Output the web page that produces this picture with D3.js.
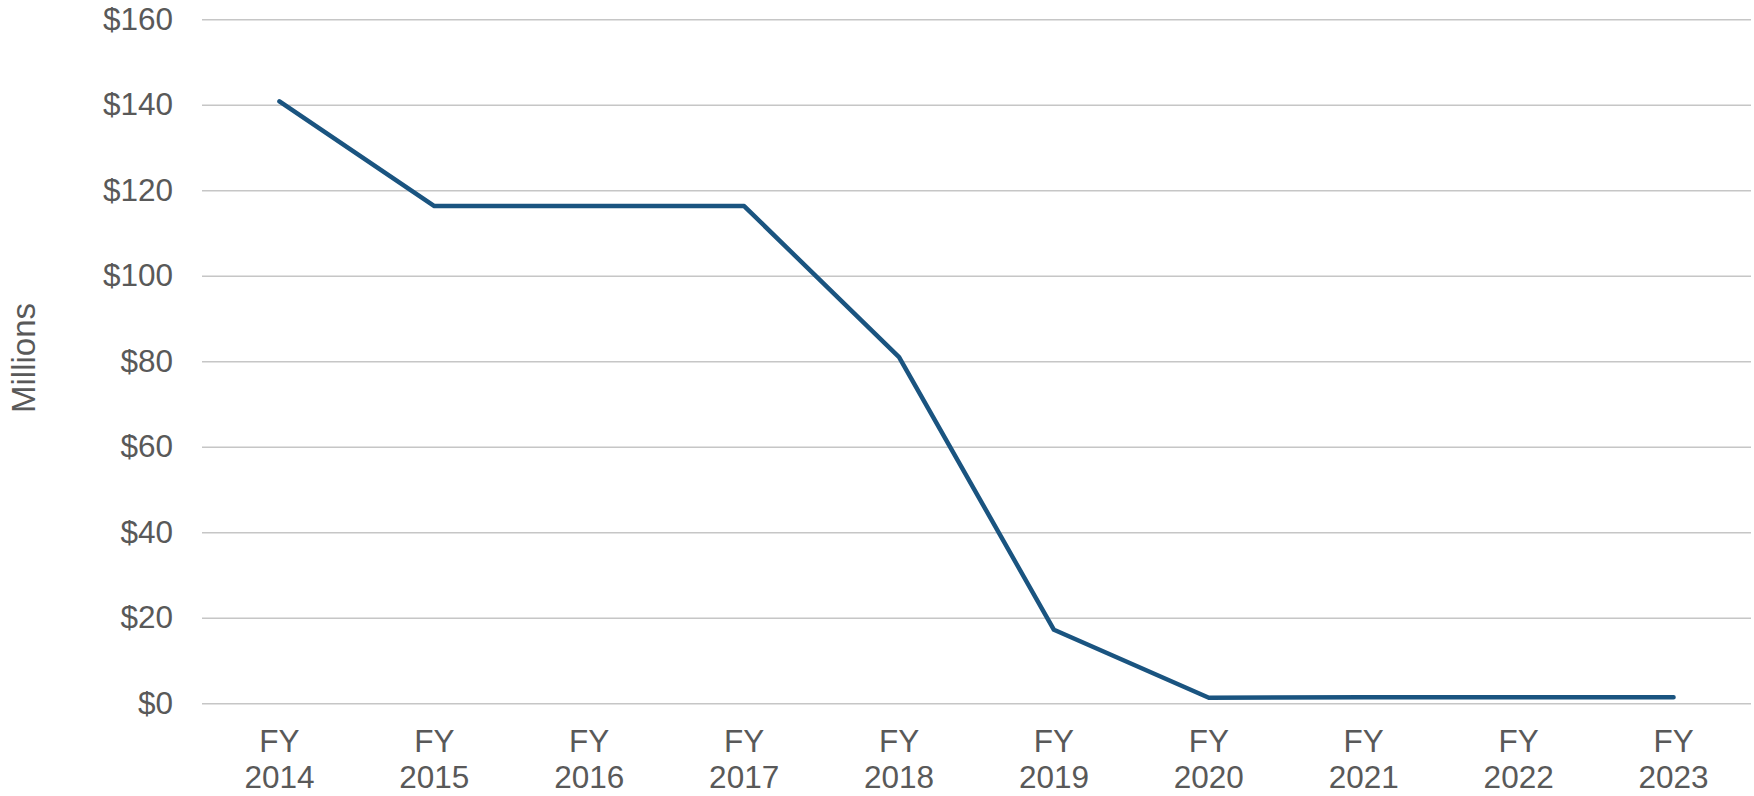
<!DOCTYPE html>
<html lang="en">
<head>
  <meta charset="UTF-8">
  <title>Funding by fiscal year</title>
  <script src="https://d3js.org/d3.v7.min.js"></script>
  <style>
    * { margin: 0; padding: 0; }
    html, body { background: #fff; }
    svg text { font-family: "Liberation Sans", Arial, sans-serif; fill: #595959; }
  </style>
</head>
<body>
  <svg id="chart" width="1754" height="796"></svg>
  <script>
    // data (millions of dollars)
    var years = ["2014", "2015", "2016", "2017", "2018", "2019", "2020", "2021", "2022", "2023"];
    var values = [140.8, 116.3, 116.3, 116.3, 81.0, 17.2, 1.3, 1.4, 1.4, 1.4];
    var yTicks = [0, 20, 40, 60, 80, 100, 120, 140, 160];

    var svg = d3.select("#chart");
    // plot edges (note: "top" is taken by window.top)
    var plotL = 202, plotR = 1751, plotT = 19.3, plotB = 703.3;

    var x = d3.scaleBand().domain(years).range([plotL, plotR]);
    var y = d3.scaleLinear().domain([0, 160]).range([plotB, plotT]);

    // gridlines + y labels
    var yAxis = d3.axisLeft(y).tickValues(yTicks)
      .tickSize(-(plotR - plotL)).tickPadding(29)
      .tickFormat(function(d) { return "$" + d; });
    var gy = svg.append("g").attr("transform", "translate(" + plotL + ",0)").call(yAxis);
    gy.select(".domain").remove();
    gy.selectAll("line").attr("stroke", "#c6c6c6").attr("stroke-width", 1.5);
    gy.selectAll("text").style("font-size", "31.5px").attr("fill", "#595959");

    // x labels, two lines each
    var gx = svg.append("g");
    years.forEach(function(yr) {
      var cx = x(yr) + x.bandwidth() / 2;
      var t = gx.append("text")
        .attr("text-anchor", "middle")
        .style("font-size", "31.5px");
      t.append("tspan").attr("x", cx).attr("y", 751.5).text("FY");
      t.append("tspan").attr("x", cx).attr("y", 788).text(yr);
    });

    // axis title
    svg.append("text")
      .attr("transform", "translate(35,358) rotate(-90)")
      .attr("text-anchor", "middle")
      .style("font-size", "33px")
      .text("Millions");

    // the line
    var line = d3.line()
      .x(function(d, i) { return x(years[i]) + x.bandwidth() / 2; })
      .y(function(d) { return y(d); });
    svg.append("path")
      .datum(values)
      .attr("d", line)
      .attr("fill", "none")
      .attr("stroke", "#1a5480")
      .attr("stroke-width", 4.5)
      .attr("stroke-linecap", "round")
      .attr("stroke-linejoin", "round");
  </script>
</body>
</html>
